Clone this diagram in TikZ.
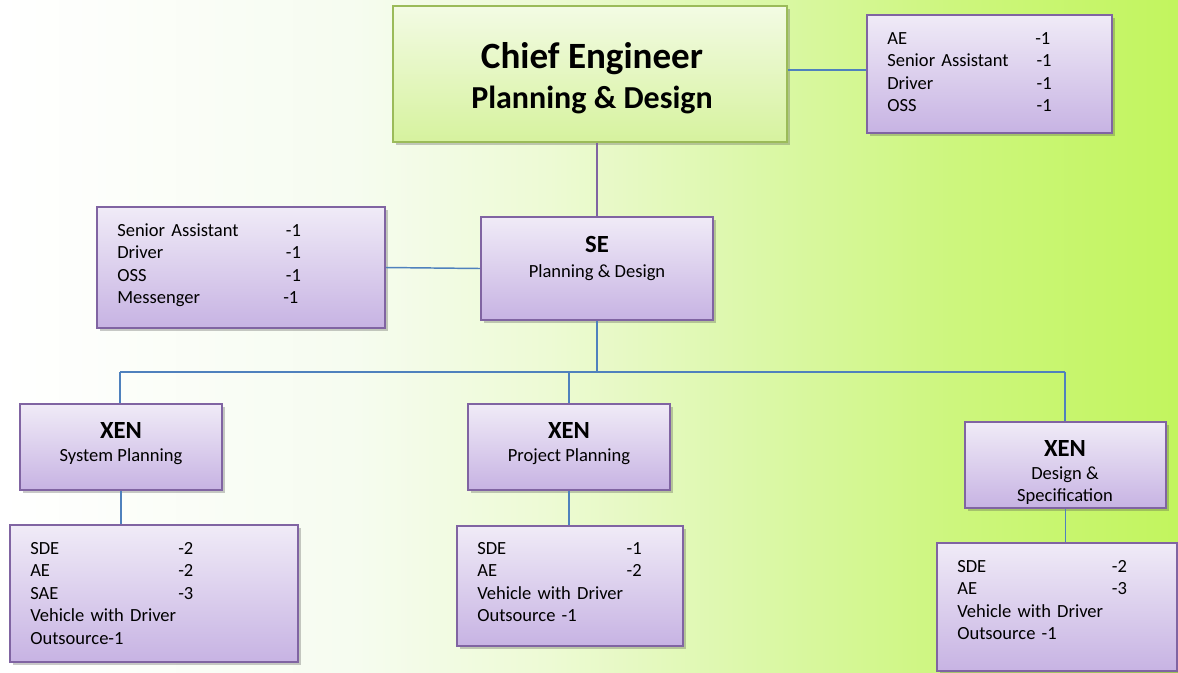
\documentclass[tikz,border=0pt]{standalone}
\usepackage{fontspec}
\setmainfont{Carlito}
\usetikzlibrary{shadows}
\definecolor{bgA}{HTML}{F6FCF0}
\definecolor{bgB}{HTML}{EDFAD4}
\definecolor{bgC}{HTML}{DCF8AA}
\definecolor{bgE}{HTML}{CDF67E}
\definecolor{bgD}{HTML}{C2F55E}
\definecolor{purpTop}{HTML}{F0EBF7}
\definecolor{purpBot}{HTML}{C7B3E3}
\definecolor{purpLine}{HTML}{8064A2}
\definecolor{grnTop}{HTML}{F3FBE4}
\definecolor{grnBot}{HTML}{D6F29E}
\definecolor{grnLine}{HTML}{9BBB59}
\definecolor{blueLine}{HTML}{4F81BD}
% x in px mapped to 25bp..75bp: bp = 25 + 50*x/1178
\pgfdeclarehorizontalshading{bgshade}{100bp}{color(0bp)=(white); color(25bp)=(white); color(39.9bp)=(bgA); color(48.3bp)=(bgB); color(56.8bp)=(bgC); color(65.3bp)=(bgE); color(75bp)=(bgD); color(100bp)=(bgD)}
\def\px{0.75pt}
\tikzset{
  pbox/.style={draw=purpLine, line width=1.4pt, top color=purpTop, bottom color=purpBot,
    drop shadow={shadow xshift=2pt, shadow yshift=-2.5pt, opacity=0.3, fill=black!70}, inner sep=0pt},
  gbox/.style={draw=grnLine, line width=1.4pt, top color=grnTop, bottom color=grnBot,
    drop shadow={shadow xshift=2pt, shadow yshift=-2.5pt, opacity=0.3, fill=black!70}, inner sep=0pt},
  conn/.style={draw=blueLine, line width=1.1pt},
  pconn/.style={draw=purpLine, line width=1.5pt},
  small/.style={font=\fontsize{13.9}{16.9}\selectfont, inner sep=0pt},
  head/.style={font=\fontsize{18.5}{21}\selectfont\bfseries, inner sep=0pt, anchor=base},
  sub/.style={font=\fontsize{13.9}{16.9}\selectfont, inner sep=0pt, anchor=base},
  list/.style={small, anchor=base west, text width=220pt, align=left},
}
\newcommand{\rowitem}[2]{\makebox[#1][l]{#2}}
\begin{document}
\begin{tikzpicture}[x=0.75pt, y=-0.75pt]
\useasboundingbox (0,0) rectangle (1178,672);
\shade[shading=bgshade] (0,0) rectangle (1178,672);

% boxes
\node[gbox, minimum width=394*\px, minimum height=136*\px] (chief) at (590,74) {};
\node[pbox, minimum width=245*\px, minimum height=118*\px] (tr) at (989.5,74) {};
\node[pbox, minimum width=288*\px, minimum height=121*\px] (staff) at (241,267.5) {};
\node[pbox, minimum width=232*\px, minimum height=103*\px] (se) at (597,268.5) {};
\node[pbox, minimum width=202*\px, minimum height=86*\px] (xen1) at (121,447) {};
\node[pbox, minimum width=202*\px, minimum height=86*\px] (xen2) at (569,447) {};
\node[pbox, minimum width=201*\px, minimum height=86*\px] (xen3) at (1065.5,465) {};
\node[pbox, minimum width=288*\px, minimum height=137*\px] (b1) at (154,593.5) {};
\node[pbox, minimum width=226*\px, minimum height=120*\px] (b2) at (570,586) {};
\node[pbox, minimum width=240*\px, minimum height=128*\px] (b3) at (1057,607) {};

% connectors
\coordinate (busL) at (120,372);
\coordinate (busR) at (1065,372);
\draw[conn] ([yshift=3pt]chief.east) -- ([yshift=3pt]tr.west);
\draw[pconn] (chief.south -| se.north) -- (se.north);
\draw[conn] (se.west) -- (staff.east);
\draw[conn] (se.south) -- (se.south |- busL);
\draw[conn] (busL) -- (busR);
\draw[conn] (busL) -- (busL |- xen1.north);
\draw[conn] (xen2.north |- busL) -- (xen2.north);
\draw[conn] (busR) -- (busR |- xen3.north);
\draw[conn] (xen1.south) -- (xen1.south |- b1.north);
\draw[conn] (xen2.south) -- (xen2.south |- b2.north);
\draw[conn] (xen3.south) -- (xen3.south |- b3.north);

% titles
\node[anchor=base, inner sep=0pt, font=\fontsize{27.8}{32}\selectfont\bfseries] (chiefT) at (592,68) {Chief Engineer};
\node[anchor=base, inner sep=0pt, font=\fontsize{24}{28}\selectfont\bfseries] (chiefS) at (592,108) {Planning \& Design};
\node[head] (seT) at (597,252) {SE};
\node[sub] (seS) at (597,277) {Planning \& Design};
\node[head] (x1T) at (121,438) {XEN};
\node[sub] (x1S) at (121,461) {System Planning};
\node[head] (x2T) at (569,438) {XEN};
\node[sub] (x2S) at (569,461) {Project Planning};
\node[head] (x3T) at (1065,456) {XEN};
\node[sub] (x3S) at (1065,479) {Design \&};
\node[sub] (x3S2) at (1065,501) {Specification};

% lists
\node[list] (trL) at (887,44) {\rowitem{111pt}{AE}-1\\\rowitem{112pt}{Senior Assistant}-1\\\rowitem{112pt}{Driver}-1\\\rowitem{112pt}{OSS}-1};
\node[list] (staffL) at (117,236) {\rowitem{126.5pt}{Senior Assistant}-1\\\rowitem{126.5pt}{Driver}-1\\\rowitem{126.5pt}{OSS}-1\\\rowitem{124.5pt}{Messenger}-1};
\node[list] (b1L) at (30,554) {\rowitem{111pt}{SDE}-2\\\rowitem{111pt}{AE}-2\\\rowitem{111pt}{SAE}-3\\Vehicle with Driver\\Outsource-1};
\node[list] (b2L) at (477,554) {\rowitem{112pt}{SDE}-1\\\rowitem{112pt}{AE}-2\\Vehicle with Driver\\Outsource -1};
\node[list] (b3L) at (957,572) {\rowitem{116pt}{SDE}-2\\\rowitem{116pt}{AE}-3\\Vehicle with Driver\\Outsource -1};
\end{tikzpicture}
\end{document}
